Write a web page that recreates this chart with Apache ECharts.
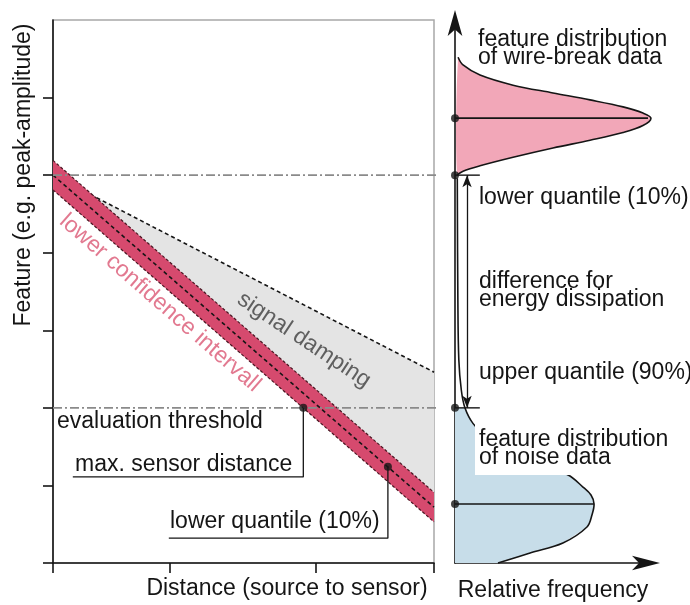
<!DOCTYPE html>
<html>
<head>
<meta charset="utf-8">
<script src="https://cdn.jsdelivr.net/npm/echarts@6/dist/echarts.min.js"></script>
<style>
  html, body { margin: 0; padding: 0; background: #fff; }
  #chart { width: 690px; height: 605px; }
</style>
</head>
<body>
<div id="chart"></div>
<script>
// ---- Left panel: feature over source-to-sensor distance ----
const distanceEnds = [0, 10];
const bandCenterEnds = [5.0, 0.72];      // mean feature of wire-break signals
const bandHalfWidth = 0.19;              // half width of the lower confidence band
const dampingUpperEnds = [5.0, 2.46];    // upper limit of the damped signal
const distanceTicks = [0, 3.07, 6.9, 10];
const featureTicks = [0, 1, 2, 3, 4, 5, 6];
const wireBreakQuantile10 = 5.0;
const noiseQuantile90 = 2.0;             // also the evaluation threshold
const guideLineEnd = 10.55;              // dash-dot guides run into the right panel
const maxSensorPoint = [6.57, 2.0];
const maxSensorCallout = [[6.57, 2.0], [6.57, 1.11], [0.52, 1.11]];
const lowerQuantilePoint = [8.79, 1.24];
const lowerQuantileCallout = [[8.79, 1.24], [8.79, 0.32], [3.04, 0.32]];

// ---- Right panel: feature distributions (relative frequency, feature) ----
const wireBreakFeature = [6.52, 6.42, 6.29, 6.16, 6.06, 5.97, 5.88, 5.80, 5.735, 5.64, 5.55, 5.45, 5.35, 5.23, 5.12, 5.05, 5.00];
const wireBreakFreq    = [0.016, 0.042, 0.131, 0.304, 0.513, 0.707, 0.880, 0.984, 1.026, 0.984, 0.880, 0.707, 0.513, 0.304, 0.131, 0.042, 0.010];
const wireBreakPeak = [1.026, 5.735];
const noiseFeature = [4.96, 3.39, 2.62, 2.23, 2.00, 1.80, 1.585, 1.353, 1.134, 0.979, 0.876, 0.760, 0.619, 0.464, 0.258, 0.129, 0.0];
const noiseFreq    = [0.012, 0.015, 0.020, 0.033, 0.052, 0.094, 0.183, 0.366, 0.592, 0.670, 0.712, 0.728, 0.717, 0.691, 0.565, 0.393, 0.225];
const noisePeak = [0.728, 0.760];
const quantileMarkLength = 0.13;
const diffArrowX = 0.063;

const FONT = "'Liberation Sans', Arial, sans-serif";
const INK = '#151515';
const BAND = '#d64a6e';

const zip = (xs, ys) => xs.map((x, i) => [x, ys[i]]);
const lineAt = (ends, offset) => [[distanceEnds[0], ends[0] + offset], [distanceEnds[1], ends[1] + offset]];

const bandUpper = lineAt(bandCenterEnds, bandHalfWidth);
const bandLower = lineAt(bandCenterEnds, -bandHalfWidth);
const bandCenter = lineAt(bandCenterEnds, 0);
const dampingUpper = lineAt(dampingUpperEnds, 0);

const wireBreakCurve = zip(wireBreakFreq, wireBreakFeature);
const noiseCurve = zip(noiseFreq, noiseFeature);
const noiseFilled = noiseCurve.filter(p => p[1] <= noiseQuantile90);

function areaSeries(idx, points, fill, z, outline, smooth) {
  return {
    type: 'custom', xAxisIndex: idx, yAxisIndex: idx, silent: true, z: z,
    data: [points[0] || outline[0]],
    renderItem: (params, api) => {
      const children = [];
      if (fill) {
        children.push({
          type: 'polygon',
          shape: { points: points.map(p => api.coord(p)), smooth: smooth || 0 },
          style: { fill: fill, stroke: null }
        });
      }
      if (outline) {
        children.push({
          type: 'polyline',
          shape: { points: outline.map(p => api.coord(p)), smooth: smooth || 0 },
          style: { fill: null, stroke: INK, lineWidth: 1.6 }
        });
      }
      return { type: 'group', children: children };
    }
  };
}

function lineSeries(idx, data, color, width, type, z) {
  return {
    type: 'line', xAxisIndex: idx, yAxisIndex: idx, data: data, silent: true,
    symbol: 'none', clip: false, z: z || 3, animation: false,
    lineStyle: { color: color, width: width, type: type || 'solid' }
  };
}

const chart = echarts.init(document.getElementById('chart'), null, { renderer: 'canvas' });

const hidden = { show: false };
const text = (t, x, y, extra, rotation) => ({
  type: 'text', x: x, y: y, z: 100, silent: true, rotation: rotation || 0,
  style: Object.assign({
    text: t, fontSize: 23, fontFamily: FONT, fill: INK, align: 'left', verticalAlign: 'middle'
  }, extra || {})
});

chart.setOption({
  animation: false,
  backgroundColor: '#fff',
  grid: [
    { left: 53, top: 20, width: 381, height: 543, show: true, borderColor: '#a8a8a8', borderWidth: 1.5, backgroundColor: 'transparent' },
    { left: 455, top: 20, width: 191, height: 543 }
  ],
  xAxis: [
    {
      gridIndex: 0, type: 'value', min: distanceEnds[0], max: distanceEnds[1],
      axisLine: { lineStyle: { color: INK, width: 1.6 } },
      axisTick: { show: true, customValues: distanceTicks, length: 10, lineStyle: { color: INK, width: 1.6 } },
      axisLabel: hidden, splitLine: hidden
    },
    {
      gridIndex: 1, type: 'value', min: 0, max: 1,
      axisLine: { lineStyle: { color: INK, width: 1.6 }, symbol: ['none', 'arrow'], symbolSize: [11, 28], symbolOffset: [0, 14] },
      axisTick: hidden, axisLabel: hidden, splitLine: hidden
    }
  ],
  yAxis: [
    {
      gridIndex: 0, type: 'value', min: 0, max: 7,
      axisLine: { lineStyle: { color: INK, width: 1.6 } },
      axisTick: { show: true, customValues: featureTicks, length: 10, lineStyle: { color: INK, width: 1.6 } },
      axisLabel: hidden, splitLine: hidden
    },
    {
      gridIndex: 1, type: 'value', min: 0, max: 7,
      axisLine: { lineStyle: { color: INK, width: 1.6 }, symbol: ['none', 'arrow'], symbolSize: [11, 26], symbolOffset: [0, 10] },
      axisTick: hidden, axisLabel: hidden, splitLine: hidden
    }
  ],
  series: [
    // signal damping region
    areaSeries(0, [dampingUpper[0], dampingUpper[1], bandCenter[1]], '#e4e4e4', 1),
    lineSeries(0, dampingUpper, INK, 1.6, [4, 3], 2),
    // lower confidence band
    Object.assign(areaSeries(0, [bandUpper[0], bandUpper[1], bandLower[1], bandLower[0]], BAND, 3), { itemStyle: { opacity: 0.88 } }),
    lineSeries(0, bandUpper, '#4a1622', 1.2, [3, 2], 4),
    lineSeries(0, bandLower, '#4a1622', 1.2, [3, 2], 4),
    lineSeries(0, bandCenter, INK, 1.6, [4, 3], 4),
    // quantile guides
    lineSeries(0, [[0, wireBreakQuantile10], [guideLineEnd, wireBreakQuantile10]], '#8a8a8a', 1.6, [9, 3, 2, 3], 5),
    lineSeries(0, [[0, noiseQuantile90], [guideLineEnd, noiseQuantile90]], '#8a8a8a', 1.6, [9, 3, 2, 3], 5),
    // callouts
    lineSeries(0, maxSensorCallout, INK, 1.3, 'solid', 6),
    lineSeries(0, lowerQuantileCallout, INK, 1.3, 'solid', 6),
    {
      type: 'scatter', xAxisIndex: 0, yAxisIndex: 0, silent: true, z: 7,
      symbolSize: 8, itemStyle: { color: INK },
      data: [maxSensorPoint, lowerQuantilePoint]
    },
    // distributions
    areaSeries(1, wireBreakCurve, '#f2a7b8', 2, wireBreakCurve, 0.35),
    areaSeries(1, [[0, noiseQuantile90]].concat(noiseFilled, [[0, 0]]), '#c7dde9', 2, null, 0),
    areaSeries(1, [], null, 3, noiseCurve, 0.35),
    lineSeries(1, [[0, wireBreakPeak[1]], wireBreakPeak], INK, 1.6, 'solid', 4),
    lineSeries(1, [[0, noisePeak[1]], noisePeak], INK, 1.6, 'solid', 4),
    lineSeries(1, [[0, wireBreakQuantile10], [quantileMarkLength, wireBreakQuantile10]], INK, 1.4, 'solid', 4),
    Object.assign(lineSeries(1, [[0, noiseQuantile90], [quantileMarkLength, noiseQuantile90]], INK, 1.4, 'solid', 4), {
      markLine: {
        silent: true, symbol: ['arrow', 'arrow'], symbolSize: [7, 12], label: hidden,
        lineStyle: { color: INK, width: 1.3, type: 'solid' },
        data: [[{ coord: [diffArrowX, wireBreakQuantile10] }, { coord: [diffArrowX, noiseQuantile90] }]]
      }
    }),
    {
      type: 'scatter', xAxisIndex: 1, yAxisIndex: 1, silent: true, z: 7, clip: false,
      symbolSize: 8, itemStyle: { color: INK },
      data: [[0, wireBreakPeak[1]], [0, wireBreakQuantile10], [0, noiseQuantile90], [0, noisePeak[1]]]
    }
  ],
  graphic: [
    text('Feature (e.g. peak-amplitude)', 24, 175, { align: 'center' }, Math.PI / 2),
    text('evaluation threshold', 57, 422),
    text('max. sensor distance', 75, 465),
    text('lower quantile (10%)', 170, 522),
    text('Distance (source to sensor)', 287, 589, { align: 'center' }),
    text('Relative frequency', 553, 591, { align: 'center' }),
    text('feature distribution\nof wire-break data', 478, 31, { verticalAlign: 'top', lineHeight: 18 }),
    text('lower quantile (10%)', 479, 198),
    text('difference for\nenergy dissipation', 479, 273, { verticalAlign: 'top', lineHeight: 18 }),
    text('upper quantile (90%)', 479, 373),
    text('feature distribution\nof noise data', 475, 423, { verticalAlign: 'top', lineHeight: 18, backgroundColor: '#fff', padding: [8, 40, 8, 4] }),
    text('signal damping', 304, 340, { align: 'center', fill: '#5f5f5f' }, -33.5 * Math.PI / 180),
    text('lower confidence intervall', 160, 303, { align: 'center', fill: '#e27990' }, -41 * Math.PI / 180)
  ]
});
</script>
</body>
</html>
